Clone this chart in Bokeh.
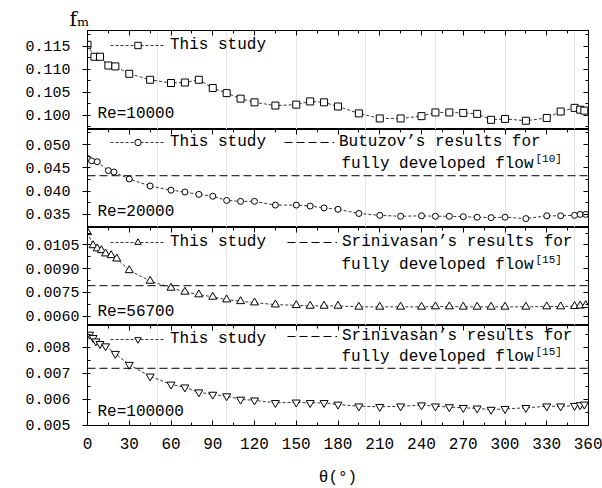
from bokeh.plotting import figure
from bokeh.models import (Range1d, LinearAxis, FixedTicker, SingleIntervalTicker, Title,
                          NumeralTickFormatter, CustomJSTickFormatter, Label, Legend, LegendItem)
from bokeh.layouts import column
from bokeh.embed import file_html
from bokeh.resources import INLINE

# ---------------- data ----------------
X_MIN, X_MAX = 0, 360
x_ticks_major = 30

theta_10000 = [0, 5, 9, 15, 20, 30, 45, 60, 70, 80, 90, 100, 110, 120, 135, 150, 160, 170, 180,
               195, 210, 225, 240, 250, 260, 270, 280, 290, 300, 315, 330, 340, 350, 354, 357]
fm_10000 = [0.1153, 0.1127, 0.1127, 0.1108, 0.1106, 0.1090, 0.1077, 0.1070, 0.1071, 0.1077,
            0.1059, 0.1048, 0.1036, 0.1028, 0.1021, 0.1023, 0.1030, 0.1028, 0.1019, 0.1004,
            0.0993, 0.0993, 0.0998, 0.1006, 0.1006, 0.1005, 0.1003, 0.0990, 0.0992, 0.0988,
            0.0994, 0.1008, 0.1016, 0.1012, 0.1010]

theta_20000 = [0, 3, 7, 15, 19, 30, 45, 60, 70, 80, 90, 100, 110, 120, 135, 150, 160, 170, 180,
               195, 210, 225, 240, 250, 260, 270, 280, 290, 300, 315, 330, 340, 350, 354, 358]
fm_20000 = [0.0470, 0.0465, 0.0463, 0.0444, 0.0441, 0.0426, 0.0411, 0.0402, 0.0398, 0.0393,
            0.0389, 0.0380, 0.0378, 0.0378, 0.0370, 0.0370, 0.0368, 0.0364, 0.0361, 0.0352,
            0.0348, 0.0346, 0.0347, 0.0346, 0.0346, 0.0345, 0.0344, 0.0343, 0.0344, 0.0341,
            0.0347, 0.0347, 0.0348, 0.0350, 0.0350]

theta_56700 = [0, 4, 7, 10, 13, 17, 21, 30, 45, 60, 70, 80, 90, 100, 110, 120, 135, 150, 160,
               170, 180, 195, 210, 225, 240, 250, 260, 270, 280, 290, 300, 315, 330, 340, 350,
               354, 358]
fm_56700 = [0.01130, 0.01047, 0.01027, 0.01016, 0.00995, 0.00984, 0.00963, 0.00889, 0.00822,
            0.00778, 0.00753, 0.00736, 0.00721, 0.00704, 0.00693, 0.00685, 0.00672, 0.00668,
            0.00664, 0.00664, 0.00664, 0.00658, 0.00658, 0.00658, 0.00658, 0.00660, 0.00660,
            0.00658, 0.00658, 0.00658, 0.00658, 0.00658, 0.00660, 0.00660, 0.00662, 0.00665,
            0.00668]

theta_100000 = [1.5, 4, 6, 9, 13, 20, 30, 45, 60, 70, 80, 90, 100, 110, 120, 135, 150, 160, 170,
                180, 195, 210, 225, 240, 250, 260, 270, 280, 290, 300, 315, 330, 340, 350, 354, 357]
fm_100000 = [0.00849, 0.00836, 0.00823, 0.00813, 0.00804, 0.00775, 0.00733, 0.00688, 0.00657,
             0.00646, 0.00627, 0.00618, 0.00612, 0.00599, 0.00596, 0.00586, 0.00588, 0.00586,
             0.00586, 0.00580, 0.00573, 0.00571, 0.00573, 0.00577, 0.00573, 0.00570, 0.00567,
             0.00565, 0.00560, 0.00563, 0.00567, 0.00573, 0.00573, 0.00575, 0.00578, 0.00580]

ref_20000 = 0.0433     # Butuzov
ref_56700 = 0.00792    # Srinivasan
ref_100000 = 0.00719   # Srinivasan

yticks_10000 = [0.100, 0.105, 0.110, 0.115]
yticks_20000 = [0.035, 0.040, 0.045, 0.050]
yticks_56700 = [0.0060, 0.0075, 0.0090, 0.0105]
yticks_100000 = [0.005, 0.006, 0.007, 0.008]

# ---------------- layout helpers ----------------
FONT = "Liberation Mono"
FRAME_W = 501
LEFT = 87


def x_at(px):
    return X_MIN + (px - LEFT) * (X_MAX - X_MIN) / FRAME_W


def y_at(lo, hi, fh, px_from_top):
    return hi - px_from_top * (hi - lo) / fh


def blank_axis(**kw):
    return LinearAxis(formatter=CustomJSTickFormatter(code="return ''"),
                      major_label_text_font_size="0px", major_label_standoff=0,
                      major_tick_in=5, major_tick_out=0, minor_tick_in=3, minor_tick_out=0,
                      axis_line_color="black", **kw)


xr = Range1d(X_MIN, X_MAX)

panels = [
    dict(theta=theta_10000, fm=fm_10000, marker="square", size=7, lo=0.0969, hi=0.1184, fh=99,
         yt=yticks_10000, fmt="0.000", std=12, re="Re=10000", re_off=16, ref=None,
         leg_y=75, top=30, bottom=0),
    dict(theta=theta_20000, fm=fm_20000, marker="circle", size=6, lo=0.03219, hi=0.05322, fh=98,
         yt=yticks_20000, fmt="0.000", std=12, re="Re=20000", re_off=16, ref=ref_20000,
         ref_l1="Butuzov\u2019s results for", ref_sup="[10]", l2_off=34,
         leg_y=76, ref_x=197, ref_w=50, ref_leg_y=76, top=0, bottom=0),
    dict(theta=theta_56700, fm=fm_56700, marker="triangle", size=8, lo=0.0054, hi=0.0116034,
         fh=98, yt=yticks_56700, fmt="0.0000", std=3, re="Re=56700", re_off=14, ref=ref_56700,
         ref_l1="Srinivasan\u2019s results for", ref_sup="[15]", l2_off=37,
         leg_y=74, ref_x=200, ref_w=50, ref_leg_y=74, top=0, bottom=0),
    dict(theta=theta_100000, fm=fm_100000, marker="inverted_triangle", size=8, lo=0.00499,
         hi=0.008835, fh=100, yt=yticks_100000, fmt="0.000", std=12, re="Re=100000",
         re_off=14, ref=ref_100000, ref_l1="Srinivasan\u2019s results for", ref_sup="[15]",
         l2_off=31, leg_y=77, ref_x=200, ref_w=50, ref_leg_y=80, top=0, bottom=63),
]

figs = []
for i, s in enumerate(panels):
    last = (i == len(panels) - 1)
    p = figure(frame_width=FRAME_W, frame_height=s["fh"], x_range=xr,
               y_range=Range1d(s["lo"], s["hi"]), output_backend="svg", toolbar_location=None,
               x_axis_location=None,
               min_border_left=LEFT, min_border_right=14,
               min_border_top=s["top"], min_border_bottom=s["bottom"])
    p.ygrid.visible = False
    p.outline_line_color = "black"
    p.outline_line_width = 1
    p.background_fill_color = "white"
    p.border_fill_color = "white"

    # left axis
    step = s["yt"][1] - s["yt"][0]
    minor = [s["yt"][0] + k * step / 2 for k in range(-2, 2 * len(s["yt"]) + 2)]
    ya = p.yaxis[0]
    ya.ticker = FixedTicker(ticks=s["yt"], minor_ticks=minor)
    ya.formatter = NumeralTickFormatter(format=s["fmt"])
    ya.major_label_text_font = FONT
    ya.major_label_text_font_size = "15px"
    ya.major_label_text_color = "black"
    ya.major_tick_out = 5
    ya.major_tick_in = 0
    ya.minor_tick_out = 0
    ya.minor_tick_in = 3
    ya.major_label_standoff = s["std"]
    ya.axis_line_color = "black"

    # right axis (ticks only)
    p.add_layout(blank_axis(ticker=FixedTicker(ticks=s["yt"], minor_ticks=minor)), "right")
    # top axis (ticks only)
    p.add_layout(blank_axis(ticker=SingleIntervalTicker(interval=x_ticks_major,
                                                        num_minor_ticks=2)), "above")

    if last:
        xa = LinearAxis(ticker=SingleIntervalTicker(interval=x_ticks_major, num_minor_ticks=2),
                        major_label_text_font=FONT, major_label_text_font_size="16px",
                        major_label_text_color="black", major_tick_in=5, major_tick_out=0,
                        minor_tick_in=3, minor_tick_out=0, major_label_standoff=12,
                        axis_label="\u03b8(\u00b0)", axis_label_text_font=FONT,
                        axis_label_text_font_size="16px", axis_label_text_font_style="normal",
                        axis_label_text_color="black", axis_label_standoff=17,
                        axis_line_color="black")
        p.add_layout(xa, "below")

    # data
    lr = p.line(s["theta"], s["fm"], line_color="black", line_width=0.8, line_dash="3 2")
    sr = p.scatter(s["theta"], s["fm"], marker=s["marker"], size=s["size"],
                   fill_color="white", line_color="black", line_width=1)

    leg = Legend(items=[LegendItem(label="This study", renderers=[lr, sr])],
                 location=(23, s["leg_y"]), orientation="vertical", padding=0, margin=0,
                 spacing=0, border_line_color=None, background_fill_alpha=0,
                 glyph_width=55, glyph_height=16, label_height=16, label_standoff=5,
                 label_text_font=FONT, label_text_font_size="16px", label_text_color="black")
    p.add_layout(leg)

    if s["ref"] is not None:
        rr = p.line([X_MIN, X_MAX], [s["ref"], s["ref"]], line_color="black", line_width=1,
                    line_dash="8 4")
        leg2 = Legend(items=[LegendItem(label=s["ref_l1"], renderers=[rr])],
                      location=(s["ref_x"], s["ref_leg_y"]), orientation="vertical", padding=0,
                      margin=0, spacing=0, border_line_color=None, background_fill_alpha=0,
                      glyph_width=s["ref_w"], glyph_height=16, label_height=16,
                      label_standoff=5, label_text_font=FONT, label_text_font_size="16px",
                      label_text_color="black")
        p.add_layout(leg2)
        yl2 = y_at(s["lo"], s["hi"], s["fh"], s["l2_off"])
        p.add_layout(Label(x=x_at(341), y=yl2, text="fully developed flow",
                           text_font=FONT, text_font_size="16px", text_baseline="middle",
                           text_color="black"))
        p.add_layout(Label(x=x_at(535), y=y_at(s["lo"], s["hi"], s["fh"], s["l2_off"] - 5),
                           text=s["ref_sup"], text_font=FONT, text_font_size="11px",
                           text_baseline="middle", text_color="black"))

    p.add_layout(Label(x=x_at(97), y=y_at(s["lo"], s["hi"], s["fh"], s["fh"] - s["re_off"]),
                       text=s["re"], text_font=FONT, text_font_size="16px",
                       text_baseline="middle", text_color="black"))

    if i == 0:
        p.add_layout(Title(text="f\u2098", align="left", offset=-18, standoff=0,
                           text_font="DejaVu Serif", text_font_size="20px",
                           text_font_style="normal", text_color="black"), "above")
    figs.append(p)

layout = column(*figs, spacing=0)
open("out.html", "w").write(file_html(layout, INLINE))
